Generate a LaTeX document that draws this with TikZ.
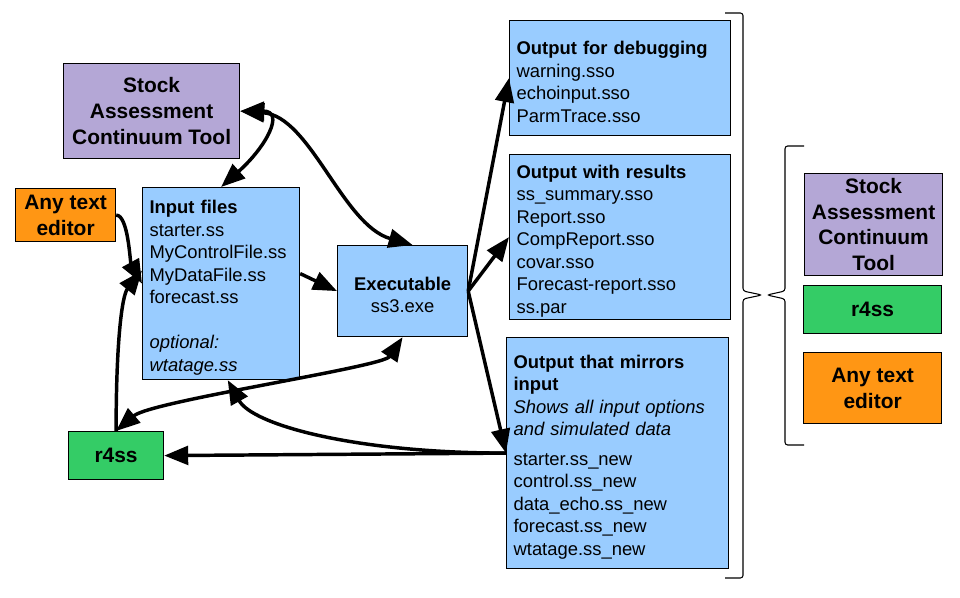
\documentclass[tikz,border=0pt]{standalone}
\usepackage{fontspec}
\setmainfont{Liberation Sans}
\usetikzlibrary{arrows.meta}

\definecolor{fileblue}{RGB}{153,204,255}
\definecolor{toolpurple}{RGB}{180,167,214}
\definecolor{editorange}{RGB}{255,150,20}
\definecolor{rgreen}{RGB}{52,204,102}

\newcommand{\txtsize}{\fontsize{13.8}{16.9}\selectfont}
\newcommand{\bigsize}{\fontsize{15.7}{19.3}\selectfont}

\begin{document}
\begin{tikzpicture}[x=0.75pt,y=0.75pt,yscale=-1,xscale=1,
  box/.style={draw=black, line width=0.9pt, inner xsep=5.25pt, inner ysep=0pt},
  filebox/.style={box, fill=fileblue, align=left, font=\txtsize, anchor=north west, execute at begin node={\rule{0pt}{16pt}}},
  toolbox/.style={box, align=center, font=\bigsize\bfseries, anchor=north west},
  flow/.style={line width=2.6pt, -{Triangle[length=18pt,width=14pt]}},
  flowboth/.style={line width=2.6pt, {Triangle[length=18pt,width=14pt]}-{Triangle[length=18pt,width=14pt]}},
  brace/.style={line width=0.8pt, rounded corners=2pt}]
\useasboundingbox (0,0) rectangle (960,598);

% Tools, left
\node[toolbox, fill=toolpurple, minimum width=132pt, minimum height=71.25pt] (sactL) at (63,63) {Stock\\Assessment\\Continuum Tool};
\node[toolbox, fill=editorange, minimum width=75pt, minimum height=39.75pt] (editL) at (15,188) {Any text\\editor};
\node[toolbox, fill=rgreen, minimum width=71.25pt, minimum height=36pt] (r4ssL) at (68,431) {r4ss};

% Input and executable
\node[filebox, text width=107.25pt, minimum height=144pt] (input) at (142,187) {\textbf{Input files}\\starter.ss\\MyControlFile.ss\\MyDataFile.ss\\forecast.ss\\[16.9pt]\textit{optional:}\\\textit{wtatage.ss}};
\node[box, fill=fileblue, font=\txtsize, align=center, anchor=north west, minimum width=97.5pt, minimum height=68.25pt] (exec) at (337,245) {\rule{0pt}{16pt}\textbf{Executable}\\ss3.exe};

% Outputs
\node[filebox, text width=155.25pt, minimum height=86.25pt] (debug) at (509,20) {\textbf{Output for debugging}\\warning.sso\\echoinput.sso\\ParmTrace.sso};
\node[filebox, text width=155.25pt, minimum height=123.75pt] (results) at (509,154) {\textbf{Output with results}\\ss\_summary.sso\\Report.sso\\CompReport.sso\\covar.sso\\Forecast-report.sso\\ss.par};
\node[filebox, text width=156pt, minimum height=173.25pt] (mirrors) at (506,337) {\textbf{Output that mirrors}\\\textbf{input}\\\textit{Shows all input options}\\\textit{and simulated data}\\[5pt]starter.ss\_new\\control.ss\_new\\data\_echo.ss\_new\\forecast.ss\_new\\wtatage.ss\_new};

% Tools, right
\node[toolbox, fill=toolpurple, minimum width=103.5pt, minimum height=76.5pt] (sactR) at (804,173) {Stock\\Assessment\\Continuum\\Tool};
\node[toolbox, fill=rgreen, minimum width=103.5pt, minimum height=36pt] (r4ssR) at (803,285) {r4ss};
\node[toolbox, fill=editorange, minimum width=103.5pt, minimum height=53.25pt] (editR) at (803,352) {Any text\\editor};

% Braces
\draw[brace] (725,13) -- (743,13) -- (743,291) -- (762,295) -- (743,299) -- (743,578) -- (725,578);
\draw[brace] (804,146) -- (785,146) -- (785,291) -- (767,295) -- (785,299) -- (785,445) -- (804,445);

% Curved links
\draw[flowboth] (sactL.east) .. controls +(70,5) and +(-70,-20) .. ([xshift=7.5pt]exec.north);
\draw[flowboth] (sactL.east) .. controls +(45,0) and +(45,-40) .. (input.north);
\draw[flow] (editL.east) .. controls +(12,0) and +(-12,-22) .. (input.west);
\draw[flow] (r4ssL.north) .. controls +(0,-90) and +(-20,25) .. ([yshift=-9.75pt]input.west);
\draw[flowboth] (exec.south) .. controls +(-20,30) and +(35,-30) .. (r4ssL.north);
\draw[flow] (mirrors.west) .. controls +(-150,0) and +(25,45) .. ([xshift=5pt]input.south);

% Straight links
\draw[flow] ([yshift=-7.5pt]input.east) -- (exec.west);
\draw[flow] (exec.east) -- (debug.west);
\draw[flow] (exec.east) -- (results.west);
\draw[flow] (exec.east) -- (mirrors.west);
\draw[flow] (mirrors.west) -- (r4ssL.east);

\end{tikzpicture}
\end{document}
